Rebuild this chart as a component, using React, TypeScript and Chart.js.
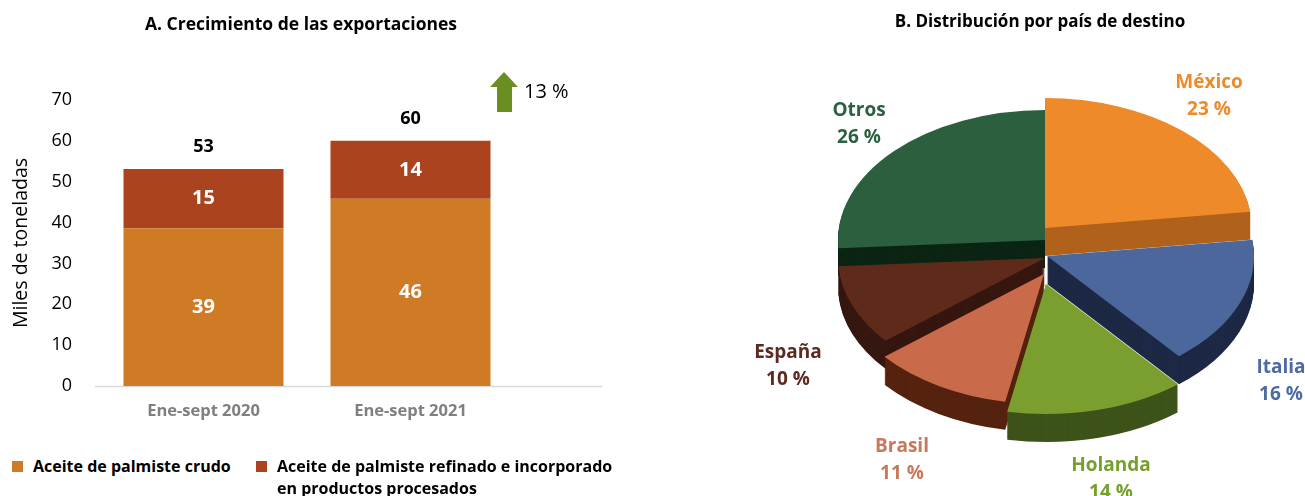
import React, { useEffect, useRef } from 'react';
import { Chart, ArcElement, registerables } from 'chart.js';

Chart.register(...registerables);

const FONT = '"Open Sans", Lato, sans-serif';

// ---------- Data: panel A ----------
const periods = ['Ene-sept 2020', 'Ene-sept 2021'];
const seriesNames = [
  'Aceite de palmiste crudo',
  'Aceite de palmiste refinado e incorporado en productos procesados',
];
const crudeValues = [38.6, 45.8];
const refinedValues = [14.5, 14.2];
const yMin = 0;
const yMax = 70;
const yStep = 10;
const growthLabel = '13 %';
const titleA = 'A. Crecimiento de las exportaciones';
const yAxisTitle = 'Miles de toneladas';

// ---------- Data: panel B ----------
const titleB = 'B. Distribución por país de destino';
const countries = ['México', 'Italia', 'Holanda', 'Brasil', 'España', 'Otros'];
const shares = [23, 16, 14, 11, 10, 26];

// ---------- Styles ----------
const crudeColor = '#cf7a25';
const refinedColor = '#ab431e';
const topColors = ['#ef8a2b', '#4b679c', '#7a9f2e', '#c96b4b', '#5e2b1b', '#2b5f3e'];
const wallColors = ['#b0621c', '#1d2844', '#3d531a', '#55230f', '#361710', '#0c2414'];
const labelColors = ['#ef8a2b', '#4d6aa3', '#76a02e', '#c9785d', '#5c2b20', '#2b6040'];
// screen-space explosion of each slice (px)
const explodeShift: [number, number][] = [
  [0, -12],
  [2, 16],
  [1, 44],
  [-1, 34],
  [0, 18],
  [0, 0],
];
const PIE_RADIUS = 207;
const SQUASH = 0.628;
const DEPTH = 28;
// label anchor points (canvas coords of panel B), centre of the two-line label
const labelAnchors: [number, number][] = [
  [589, 96],
  [661, 381],
  [491, 479],
  [282, 460],
  [168, 366],
  [239, 124],
];

function squash(ctx: CanvasRenderingContext2D, cx: number, cy: number) {
  ctx.translate(cx, cy);
  ctx.scale(1, SQUASH);
  ctx.translate(-cx, -cy);
}

const barExtras = {
  id: 'barExtras',
  beforeDatasetsDraw(chart: any) {
    const { ctx, scales } = chart;
    const y0 = scales.y.getPixelForValue(0);
    ctx.save();
    ctx.strokeStyle = '#d9d9d9';
    ctx.lineWidth = 1.5;
    ctx.beginPath();
    ctx.moveTo(chart.chartArea.left - 5, y0 + 0.5);
    ctx.lineTo(chart.chartArea.right + 88, y0 + 0.5);
    ctx.stroke();
    ctx.restore();
  },
  afterDatasetsDraw(chart: any) {
    const { ctx } = chart;
    ctx.save();
    ctx.textAlign = 'center';
    ctx.textBaseline = 'middle';
    chart.data.datasets.forEach((ds: any, di: number) => {
      const meta = chart.getDatasetMeta(di);
      meta.data.forEach((el: any, i: number) => {
        ctx.fillStyle = '#ffffff';
        ctx.font = `bold 20px ${FONT}`;
        ctx.fillText(String(Math.round(ds.data[i])), el.x, (el.y + el.base) / 2);
      });
    });
    const topMeta = chart.getDatasetMeta(chart.data.datasets.length - 1);
    topMeta.data.forEach((el: any, i: number) => {
      const total = chart.data.datasets.reduce((s: number, ds: any) => s + ds.data[i], 0);
      ctx.fillStyle = '#000000';
      ctx.font = `bold 18px ${FONT}`;
      ctx.fillText(String(Math.round(total)), el.x, el.y - 22);
    });
    ctx.font = `bold 17.5px ${FONT}`;
    ctx.fillStyle = '#000000';
    ctx.fillText(titleA, 301, 25);
    ctx.fillStyle = '#6b8e23';
    ctx.beginPath();
    ctx.moveTo(504, 72);
    ctx.lineTo(518, 87);
    ctx.lineTo(512, 87);
    ctx.lineTo(512, 112);
    ctx.lineTo(497, 112);
    ctx.lineTo(497, 87);
    ctx.lineTo(490, 87);
    ctx.closePath();
    ctx.fill();
    ctx.fillStyle = '#000000';
    ctx.font = `20px ${FONT}`;
    ctx.textAlign = 'left';
    ctx.fillText(growthLabel, 524, 92);
    ctx.restore();
  },
};

const pie3d = {
  id: 'pie3d',
  beforeDatasetsDraw(chart: any) {
    const { ctx } = chart;
    const meta = chart.getDatasetMeta(0);
    const arcs = meta.data as any[];
    ctx.save();
    if (!arcs.length) return;
    const cx = arcs[0].x;
    const cy = arcs[0].y;
    // side walls: extrude each slice downward
    for (let d = DEPTH; d >= 1; d--) {
      arcs.forEach((el: any, i: number) => {
        const [sx, sy] = explodeShift[i];
        ctx.save();
        ctx.translate(sx, sy + d);
        squash(ctx, cx, cy);
        ctx.beginPath();
        ctx.moveTo(el.x, el.y);
        ctx.arc(el.x, el.y, el.outerRadius, el.startAngle, el.endAngle);
        ctx.closePath();
        ctx.fillStyle = wallColors[i];
        ctx.fill();
        ctx.restore();
      });
    }
    // top faces: drawn by Chart.js's ArcElement, each shifted by its explosion
    arcs.forEach((el: any, i: number) => {
      const [sx, sy] = explodeShift[i];
      el.draw = function (c: CanvasRenderingContext2D) {
        c.save();
        c.translate(sx, sy / SQUASH);
        ArcElement.prototype.draw.call(this, c);
        c.restore();
      };
    });
    squash(ctx, cx, cy);
  },
  afterDatasetsDraw(chart: any) {
    const { ctx } = chart;
    ctx.restore();
    ctx.save();
    ctx.textAlign = 'center';
    ctx.textBaseline = 'middle';
    ctx.font = `bold 17px ${FONT}`;
    ctx.fillStyle = '#000000';
    ctx.fillText(titleB, 420, 22);
    ctx.font = `bold 19px ${FONT}`;
    const ds = chart.data.datasets[0];
    chart.data.labels.forEach((name: string, i: number) => {
      const [x, y] = labelAnchors[i];
      ctx.fillStyle = labelColors[i];
      ctx.fillText(name, x, y - 13.5);
      ctx.fillText(`${ds.data[i]} %`, x, y + 14);
    });
    ctx.restore();
  },
};

export default function App() {
  const barRef = useRef<HTMLCanvasElement>(null);
  const pieRef = useRef<HTMLCanvasElement>(null);

  useEffect(() => {
    const barChart = new Chart(barRef.current!, {
      type: 'bar',
      data: {
        labels: periods,
        datasets: [
          {
            label: seriesNames[0],
            data: crudeValues,
            backgroundColor: crudeColor,
            barPercentage: 0.773,
            categoryPercentage: 1,
          },
          {
            label: seriesNames[1],
            data: refinedValues,
            backgroundColor: refinedColor,
            barPercentage: 0.773,
            categoryPercentage: 1,
          },
        ],
      },
      options: {
        animation: false,
        responsive: false,
        maintainAspectRatio: false,
        layout: { padding: { top: 100, right: 106, left: 0, bottom: 0 } },
        plugins: { legend: { display: false }, tooltip: { enabled: false }, title: { display: false } },
        scales: {
          x: {
            stacked: true,
            grid: { display: false, drawTicks: false },
            border: { display: false },
            ticks: { font: { family: FONT, size: 16.5, weight: 'bold' }, color: '#7f7f7f', padding: 15 },
            afterFit: (s: any) => {
              s.height = 54;
            },
          },
          y: {
            stacked: true,
            min: yMin,
            max: yMax,
            ticks: { stepSize: yStep, font: { family: FONT, size: 18 }, color: '#000000', padding: 28 },
            grid: { display: false, drawTicks: false },
            border: { display: false },
            title: {
              display: true,
              text: yAxisTitle,
              font: { family: FONT, size: 19.5 },
              color: '#000000',
              padding: { top: 10, bottom: 0 },
            },
            afterFit: (s: any) => {
              s.width = 100;
            },
          },
        },
      } as any,
      plugins: [barExtras],
    });

    const pieChart = new Chart(pieRef.current!, {
      type: 'pie',
      data: {
        labels: countries,
        datasets: [
          {
            data: shares,
            backgroundColor: topColors,
            borderWidth: 0,
            offset: 0,
            hoverOffset: 0,
            radius: PIE_RADIUS,
          } as any,
        ],
      },
      options: {
        animation: false,
        responsive: false,
        maintainAspectRatio: false,
        layout: { padding: { left: 165, top: 0, right: 0, bottom: 16 } },
        plugins: { legend: { display: false }, tooltip: { enabled: false } },
      } as any,
      plugins: [pie3d],
    });

    return () => {
      barChart.destroy();
      pieChart.destroy();
    };
  }, []);

  const legendText: React.CSSProperties = {
    fontFamily: FONT,
    fontWeight: 700,
    fontSize: 16,
    color: '#000',
    lineHeight: '22px',
  };

  return (
    <div style={{ position: 'absolute', left: 0, top: 0, width: 1305, height: 496, background: '#fff', overflow: 'hidden' }}>
      <canvas ref={barRef} width={620} height={440} style={{ position: 'absolute', left: 0, top: 0, width: 620, height: 440 }} />
      <canvas ref={pieRef} width={685} height={496} style={{ position: 'absolute', left: 620, top: 0, width: 685, height: 496 }} />
      <div style={{ position: 'absolute', left: 12, top: 455, display: 'flex', alignItems: 'flex-start' }}>
        <span style={{ width: 11, height: 11, background: crudeColor, marginTop: 6, marginRight: 10, flex: 'none' }} />
        <span style={legendText}>{seriesNames[0]}</span>
      </div>
      <div style={{ position: 'absolute', left: 256, top: 455, display: 'flex', alignItems: 'flex-start' }}>
        <span style={{ width: 11, height: 11, background: refinedColor, marginTop: 6, marginRight: 10, flex: 'none' }} />
        <span style={{ ...legendText, width: 345 }}>{seriesNames[1]}</span>
      </div>
    </div>
  );
}
